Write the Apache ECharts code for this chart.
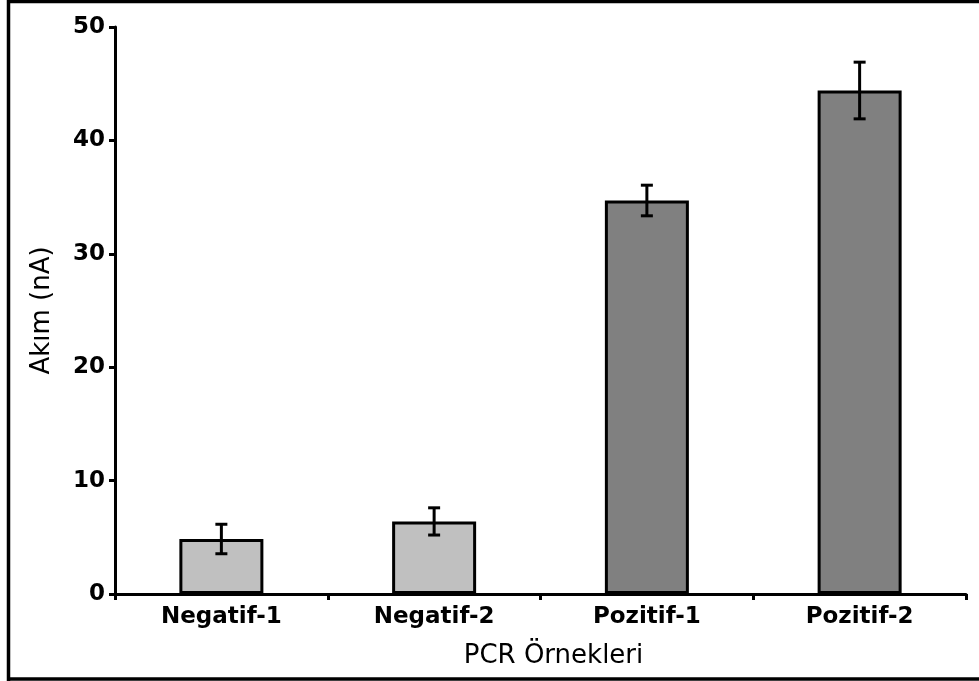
<!DOCTYPE html>
<html>
<head>
<meta charset="utf-8">
<script src="https://cdn.jsdelivr.net/npm/echarts@6/dist/echarts.min.js"></script>
<style>
  html, body { margin: 0; padding: 0; background: #fff; }
  #chart { width: 979px; height: 681px; }
</style>
</head>
<body>
<div id="chart"></div>
<script>
// PCR örnekleri - akım değerleri
var categories = ['Negatif-1', 'Negatif-2', 'Pozitif-1', 'Pozitif-2'];
var akim = [4.85, 6.4, 34.7, 44.4];
var hata = [1.3, 1.2, 1.35, 2.5];
var renkler = ['#c0c0c0', '#c0c0c0', '#808080', '#808080'];
var yTicks = [0, 10, 20, 30, 40, 50];

var chart = echarts.init(document.getElementById('chart'));

var barData = akim.map(function (v, i) {
    return { value: v, itemStyle: { color: renkler[i] } };
});
var errData = akim.map(function (v, i) {
    return [i, v - hata[i], v + hata[i]];
});

chart.setOption({
    animation: false,
    grid: { left: 115, top: 27, right: 13, bottom: 87 },
    xAxis: {
        type: 'category',
        data: categories,
        name: 'PCR Örnekleri',
        nameLocation: 'middle',
        nameGap: 49,
        nameTextStyle: {
            color: '#000', fontFamily: 'DejaVu Sans', fontSize: 26,
            padding: [0, 0, 0, 26]
        },
        axisLine: { lineStyle: { color: '#000', width: 3 } },
        axisTick: { show: true, length: 6, lineStyle: { color: '#000', width: 3 } },
        axisLabel: {
            color: '#000', fontFamily: 'DejaVu Sans', fontWeight: 'bold',
            fontSize: 23, margin: 12
        },
        splitLine: { show: false }
    },
    yAxis: {
        type: 'value',
        min: yTicks[0],
        max: yTicks[yTicks.length - 1],
        interval: 10,
        name: 'Akım (nA)',
        nameLocation: 'middle',
        nameGap: 60,
        nameTextStyle: { color: '#000', fontFamily: 'DejaVu Sans', fontSize: 26 },
        axisLine: { show: true, lineStyle: { color: '#000', width: 3 } },
        axisTick: { show: true, length: 6, lineStyle: { color: '#000', width: 3 } },
        axisLabel: {
            color: '#000', fontFamily: 'DejaVu Sans', fontWeight: 'bold',
            fontSize: 23, margin: 10
        },
        splitLine: { show: false }
    },
    series: [{
        type: 'bar',
        data: barData,
        barWidth: 84,
        itemStyle: { borderColor: '#000', borderWidth: 3 }
    }, {
        type: 'custom',
        data: errData,
        z: 10,
        renderItem: function (params, api) {
            var x = api.value(0);
            var lo = api.coord([x, api.value(1)]);
            var hi = api.coord([x, api.value(2)]);
            var w = 6;
            var st = { stroke: '#000', lineWidth: 3 };
            return {
                type: 'group',
                children: [
                    { type: 'line', shape: { x1: hi[0], y1: hi[1], x2: lo[0], y2: lo[1] }, style: st },
                    { type: 'line', shape: { x1: hi[0] - w, y1: hi[1], x2: hi[0] + w, y2: hi[1] }, style: st },
                    { type: 'line', shape: { x1: lo[0] - w, y1: lo[1], x2: lo[0] + w, y2: lo[1] }, style: st }
                ]
            };
        }
    }],
    graphic: [
        { type: 'line', shape: { x1: 8.5, y1: 0, x2: 8.5, y2: 681 }, style: { stroke: '#000', lineWidth: 3.5 } },
        { type: 'line', shape: { x1: 7, y1: 1.5, x2: 979, y2: 1.5 }, style: { stroke: '#000', lineWidth: 3.5 } },
        { type: 'line', shape: { x1: 7, y1: 679, x2: 979, y2: 679 }, style: { stroke: '#000', lineWidth: 3.5 } }
    ]
});
</script>
</body>
</html>
